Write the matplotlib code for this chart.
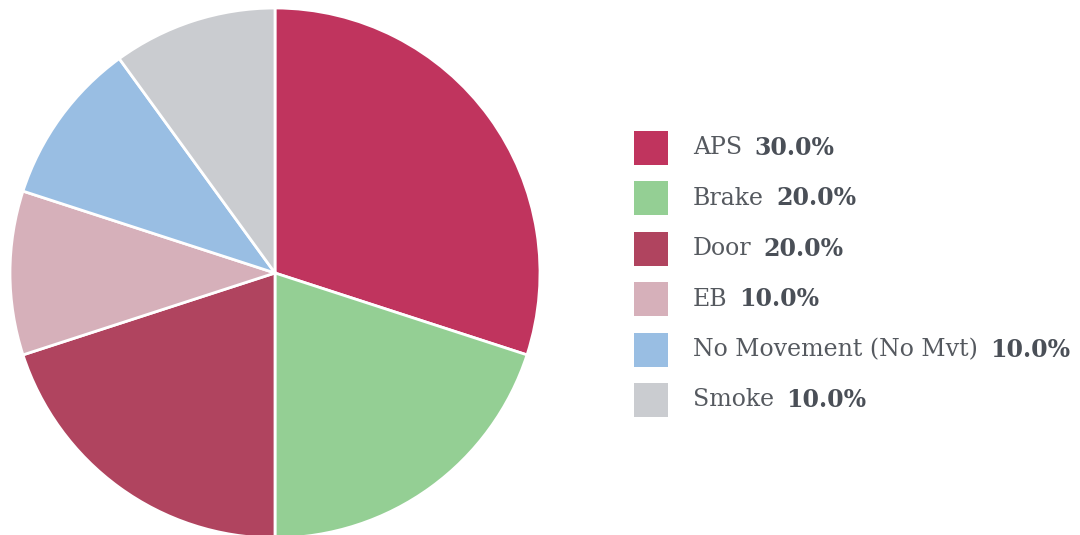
import matplotlib
matplotlib.use("Agg")
import matplotlib.pyplot as plt
from matplotlib.patches import Rectangle

labels = ["APS", "Brake", "Door", "EB", "No Movement (No Mvt)", "Smoke"]
values = [30.0, 20.0, 20.0, 10.0, 10.0, 10.0]
colors = ["#C0345E", "#94CF94", "#B0445F", "#D6B0BA", "#99BEE3", "#CACCD0"]

W, H = 1080, 535
fig = plt.figure(figsize=(W / 100, H / 100), dpi=100)
fig.patch.set_facecolor("white")

# pie area in pixels: center (275, 273), radius 265
cx, cy, r = 275, 273, 265
ax = fig.add_axes([(cx - r) / W, (H - cy - r) / H, 2 * r / W, 2 * r / H])
ax.pie(values, colors=colors, startangle=90, counterclock=False,
       wedgeprops=dict(edgecolor="white", linewidth=2))
ax.set_xlim(-1, 1)
ax.set_ylim(-1, 1)
ax.set_aspect("equal")
ax.axis("off")

# legend drawn by hand (mixed weights)
fig.canvas.draw()
renderer = fig.canvas.get_renderer()
txt_color = "#4a4f57"
fs = 17
for i, (lab, val, col) in enumerate(zip(labels, values, colors)):
    yc = 148 + i * 50.4
    sq = 34
    fig.patches.append(Rectangle((634 / W, (H - yc - sq / 2) / H), sq / W, sq / H,
                                 transform=fig.transFigure, facecolor=col,
                                 edgecolor="none"))
    t = fig.text(693 / W, (H - yc) / H, lab, fontsize=fs, family="DejaVu Serif",
                 color="#55595f", va="center", ha="left")
    bb = t.get_window_extent(renderer=renderer)
    fig.text((bb.x1 + 12) / W, (H - yc) / H, "%.1f%%" % val, fontsize=fs,
             family="DejaVu Serif", fontweight="bold", color=txt_color,
             va="center", ha="left")

fig.savefig("out.png", dpi=100, facecolor="white")
